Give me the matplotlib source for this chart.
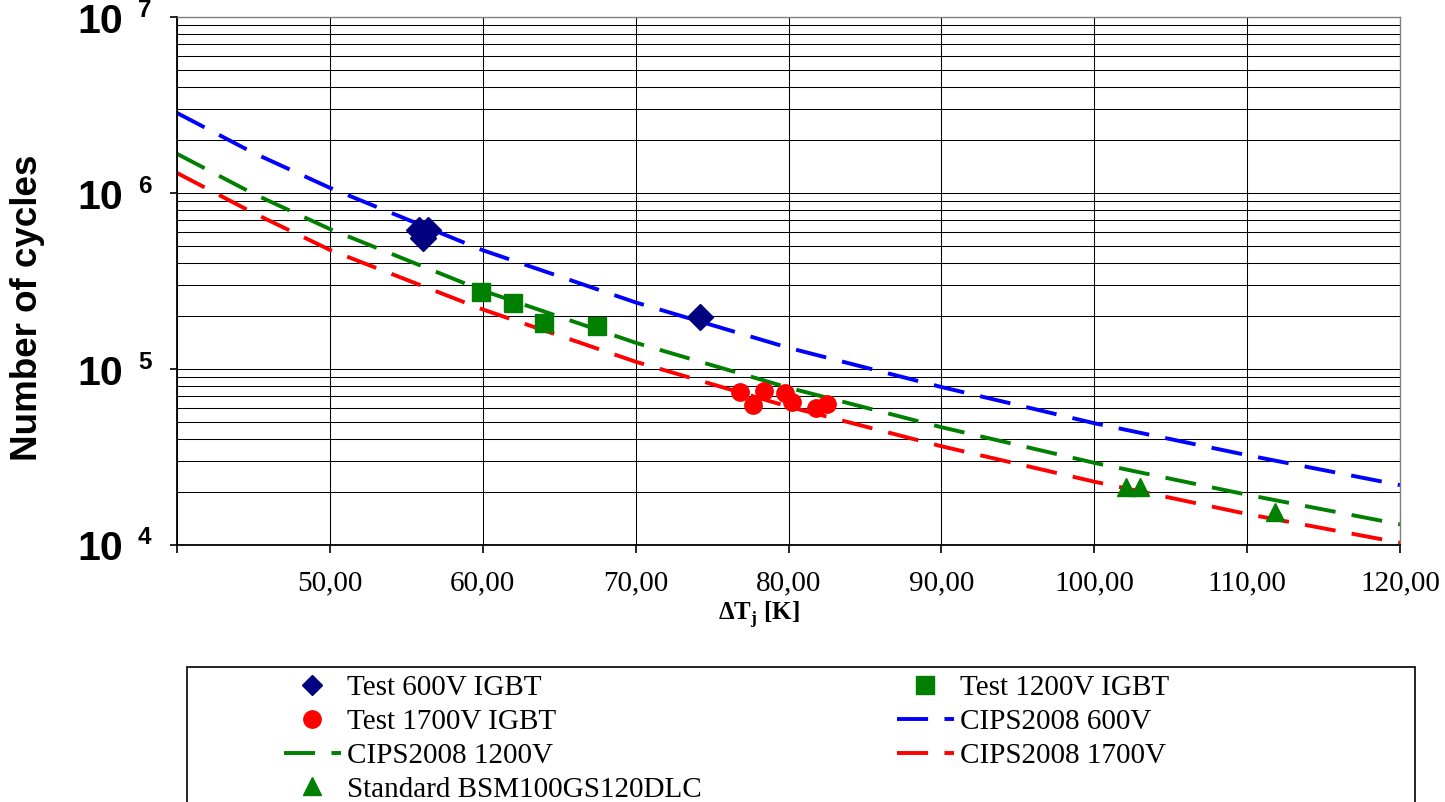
import numpy as np
import matplotlib.pyplot as plt
from matplotlib.patches import Rectangle
from matplotlib.ticker import LogLocator, NullFormatter

plt.rcParams['mathtext.fontset'] = 'custom'
plt.rcParams['mathtext.rm'] = 'Liberation Serif'
plt.rcParams['mathtext.bf'] = 'Liberation Serif:bold'

# Messpunkte (Delta Tj in K, Zyklen)
dt_600 = [55.8, 56.4, 56.1, 74.2]
n_600 = [6.2e5, 6.2e5, 5.55e5, 1.97e5]

dt_1200 = [59.9, 62.0, 64.0, 67.5]
n_1200 = [2.73e5, 2.38e5, 1.82e5, 1.76e5]

dt_1700 = [76.8, 77.7, 78.4, 79.8, 80.2, 81.8, 82.5]
n_1700 = [7.43e4, 6.24e4, 7.53e4, 7.34e4, 6.53e4, 5.98e4, 6.32e4]

dt_std = [102.1, 103.0, 111.8]
n_std = [2.14e4, 2.13e4, 1.54e4]

# CIPS2008 Kurven
dt_cips = [40, 45, 50, 60, 70, 80, 90, 100, 110, 120]
n_cips_600 = [2.85e6, 1.69e6, 1.07e6, 4.73e5, 2.39e5, 1.32e5, 7.9e4, 4.92e4, 3.24e4, 2.19e4]
n_cips_1200 = [1.67e6, 9.9e5, 6.24e5, 2.79e5, 1.41e5, 7.83e4, 4.67e4, 2.93e4, 1.93e4, 1.31e4]
n_cips_1700 = [1.30e6, 7.7e5, 4.75e5, 2.18e5, 1.10e5, 6.11e4, 3.64e4, 2.29e4, 1.50e4, 1.03e4]

x_ticks = [40, 50, 60, 70, 80, 90, 100, 110, 120]
x_labels = ['', '50,00', '60,00', '70,00', '80,00', '90,00', '100,00', '110,00', '120,00']
decades = [1e4, 1e5, 1e6, 1e7]
exponents = ['4', '5', '6', '7']

fig = plt.figure(figsize=(14.45, 8.02), dpi=100)
ax = fig.add_axes([0.12249, 0.32045, 0.84637, 0.65835])

dash = (0, (8.0, 4.2))
l_600, = ax.plot(dt_cips, n_cips_600, color='#0000FF', lw=2.8, linestyle=dash, label='CIPS2008 600V')
l_1200, = ax.plot(dt_cips, n_cips_1200, color='#008000', lw=2.8, linestyle=dash, label='CIPS2008 1200V')
l_1700, = ax.plot(dt_cips, n_cips_1700, color='#FF0000', lw=2.8, linestyle=dash, label='CIPS2008 1700V')

p_600, = ax.plot(dt_600, n_600, 'D', color='#000080', ms=13, ls='none', label='Test 600V IGBT', zorder=5)
p_1200, = ax.plot(dt_1200, n_1200, 's', color='#008000', ms=13, ls='none', label='Test 1200V IGBT', zorder=5)
p_1700, = ax.plot(dt_1700, n_1700, 'o', color='#FF0000', ms=12.5, ls='none', label='Test 1700V IGBT', zorder=5)
p_std, = ax.plot(dt_std, n_std, '^', color='#008000', ms=13, ls='none', label='Standard BSM100GS120DLC', zorder=5)

ax.set_yscale('log')
ax.set_xlim(40, 120)
ax.set_ylim(1e4, 1e7)

ax.set_xticks(x_ticks)
ax.set_xticklabels(x_labels, fontfamily='Liberation Serif', fontsize=21)
ax.tick_params(axis='x', direction='out', length=6, width=1.2, pad=12)

ax.set_yticks(decades)
ax.set_yticklabels([''] * len(decades))
ax.yaxis.set_minor_locator(LogLocator(base=10, subs=np.arange(2, 10)))
ax.yaxis.set_minor_formatter(NullFormatter())
ax.tick_params(axis='y', which='major', direction='out', length=5, width=1.2)
ax.tick_params(axis='y', which='minor', length=0)

ax.set_axisbelow(True)
ax.grid(True, which='both', axis='y', color='black', lw=0.75)
ax.grid(True, which='major', axis='x', color='black', lw=0.75)

for side in ['top', 'right']:
    ax.spines[side].set_color('#808080')
    ax.spines[side].set_linewidth(1.0)
for side in ['left', 'bottom']:
    ax.spines[side].set_color('black')
    ax.spines[side].set_linewidth(1.3)

# 10^n Beschriftung wie im Original
ytr = ax.get_yaxis_transform()
for val, ex in zip(decades, exponents):
    ax.annotate('10', xy=(0, val), xycoords=ytr, xytext=(-54 * 0.72, -15.5 * 0.72),
                textcoords='offset points', ha='right', va='baseline',
                fontfamily='Liberation Sans', fontweight='bold', fontsize=29.5)
    ax.annotate(ex, xy=(0, val), xycoords=ytr, xytext=(-39 * 0.72, 0.5 * 0.72),
                textcoords='offset points', ha='left', va='baseline',
                fontfamily='Liberation Sans', fontweight='bold', fontsize=17.5)

fig.text(28 / 1445, 1 - 308 / 802, 'Number of cycles', rotation=90, ha='center', va='center',
         fontfamily='Liberation Sans', fontweight='bold', fontsize=26.5)

fig.text(759 / 1445, 1 - 620 / 802, r'ΔT$_\mathbf{j}$ [K]', ha='center', va='baseline',
         fontfamily='Liberation Serif', fontweight='bold', fontsize=18)

handles = [p_600, p_1700, l_1200, p_std, p_1200, l_600, l_1700]
leg = fig.legend(handles=handles, labels=[h.get_label() for h in handles],
                 loc='upper left', bbox_to_anchor=(284 / 1445, 1 - 675 / 802),
                 ncol=2, frameon=False, borderpad=0, borderaxespad=0,
                 handlelength=1.95, handletextpad=0.2, columnspacing=6.7,
                 labelspacing=0.25, prop={'family': 'Liberation Serif', 'size': 21})
# Raute in der Legende etwas kleiner als im Diagramm
leg.legend_handles[0].set_markersize(10.5)

fig.add_artist(Rectangle((187 / 1445, -0.05), (1415 - 187) / 1445, (802 - 667) / 802 + 0.05,
                         transform=fig.transFigure, fill=False, ec='black', lw=1.2))

fig.savefig('out.png', dpi=100)
